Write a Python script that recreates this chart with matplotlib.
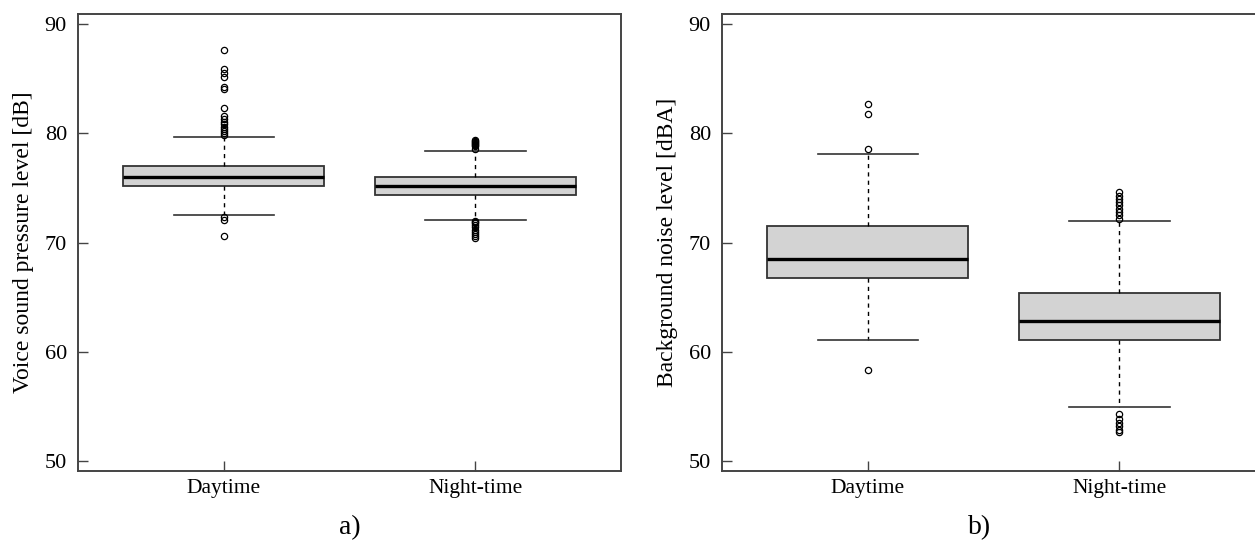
import matplotlib
matplotlib.use("Agg")
import matplotlib.pyplot as plt

plt.rcParams["font.family"] = ["Liberation Serif", "DejaVu Serif"]

groups = ["Daytime", "Night-time"]

# five-number summaries: whislo, q1, med, q3, whishi
voice_stats = [
    [72.5, 75.2, 76.0, 77.0, 79.7],
    [72.1, 74.4, 75.2, 76.0, 78.4],
]
voice_fliers = [
    [87.6, 85.9, 85.5, 85.1, 84.2, 84.0, 82.3, 81.6, 81.3, 81.0, 80.8,
     80.6, 80.4, 80.2, 80.0, 79.8, 72.3, 72.1, 70.6],
    [79.4, 79.3, 79.2, 79.1, 79.0, 78.9, 78.8, 78.6, 72.0, 71.9, 71.8,
     71.6, 71.4, 71.2, 71.0, 70.8, 70.6, 70.4],
]
noise_stats = [
    [61.1, 66.8, 68.5, 71.5, 78.1],
    [55.0, 61.1, 62.8, 65.4, 72.0],
]
noise_fliers = [
    [82.7, 81.8, 78.6, 58.4],
    [74.6, 74.3, 74.0, 73.7, 73.4, 73.1, 72.8, 72.5, 72.2,
     54.3, 53.9, 53.5, 53.2, 52.9, 52.7],
]
yticks = [50, 60, 70, 80, 90]


def draw_panel(ax, stats, fliers, ylabel):
    bx = []
    for s, f, lab in zip(stats, fliers, groups):
        bx.append({"whislo": s[0], "q1": s[1], "med": s[2], "q3": s[3],
                   "whishi": s[4], "fliers": f, "label": lab})
    ax.bxp(
        bx, positions=[1, 2], widths=0.8, capwidths=0.4, patch_artist=True,
        boxprops=dict(facecolor="#d3d3d3", edgecolor="#333333", linewidth=1.3),
        medianprops=dict(color="black", linewidth=2.4),
        whiskerprops=dict(color="black", linestyle=(0, (3, 3)), linewidth=1.0),
        capprops=dict(color="#333333", linewidth=1.2),
        flierprops=dict(marker="o", markersize=4.5, markerfacecolor="none",
                        markeredgecolor="black", markeredgewidth=0.9),
    )
    ax.set_xlim(0.42, 2.58)
    ax.set_ylim(49.13, 90.9)
    ax.set_yticks(yticks)
    ax.set_xticks([1, 2], groups)
    ax.tick_params(direction="in", length=7, width=1.0, color="#444444")
    ax.tick_params(axis="y", labelsize=16, pad=8)
    ax.tick_params(axis="x", labelsize=15.5, pad=6)
    ax.set_ylabel(ylabel, fontsize=17, labelpad=8)
    for sp in ax.spines.values():
        sp.set_color("#444444")
        sp.set_linewidth(1.4)


fig = plt.figure(figsize=(12.55, 5.42), dpi=100)
ax1 = fig.add_axes([0.0622, 0.131, 0.4327, 0.8432])
ax2 = fig.add_axes([0.5753, 0.131, 0.4327, 0.8432])

draw_panel(ax1, voice_stats, voice_fliers, "Voice sound pressure level [dB]")
draw_panel(ax2, noise_stats, noise_fliers, "Background noise level [dBA]")

fig.text(350 / 1255, 1 - 528 / 542, "a)", fontsize=20, ha="center", va="center")
fig.text(980 / 1255, 1 - 528 / 542, "b)", fontsize=20, ha="center", va="center")

fig.savefig("out.png", dpi=100)
